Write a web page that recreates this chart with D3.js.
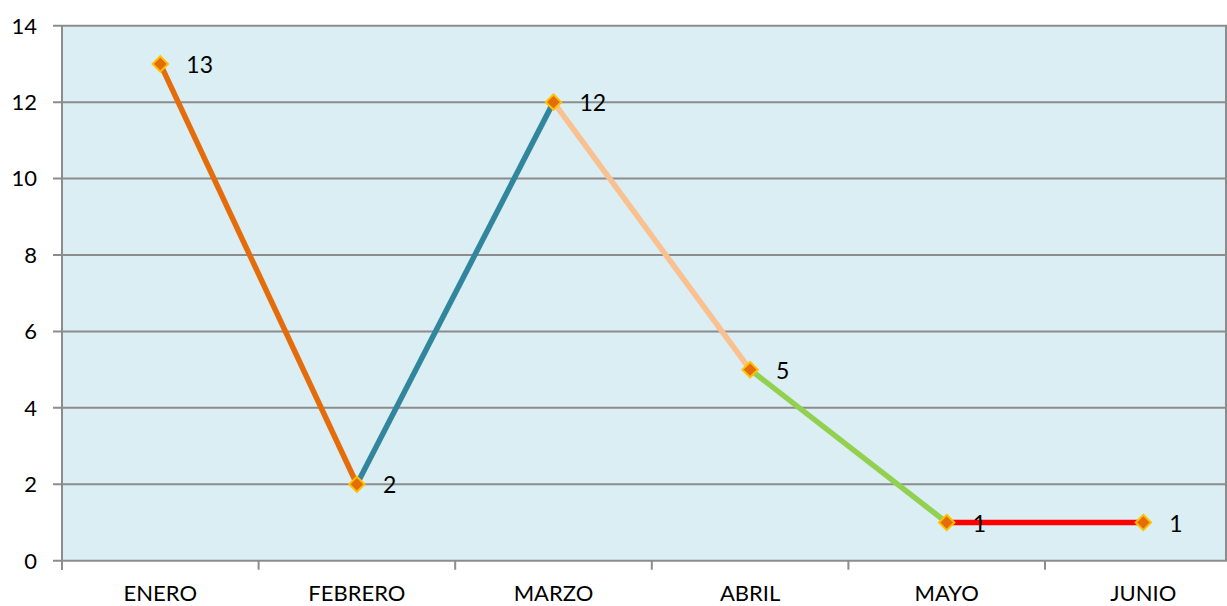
<!DOCTYPE html>
<html><head><meta charset="utf-8">
<script src="https://cdn.jsdelivr.net/npm/d3@7"></script>
<style>body{margin:0;background:#fff}svg{display:block}text{font-family:Lato,"Open Sans",sans-serif}</style>
</head><body>
<svg id="c" width="1227" height="606"></svg>
<script>
const categories = ["ENERO","FEBRERO","MARZO","ABRIL","MAYO","JUNIO"];
const values = [13,2,12,5,1,1];
const segmentColors = ["#E46C0A","#31859C","#FAC090","#92D050","#FF0000"];
const yTicks = [0,2,4,6,8,10,12,14];

(function(){
const svg = d3.select("#c");
const pLeft = 62, pTop = 25.7, pBottom = 560.7, band = 196.6;
const x = d3.scaleBand().domain(categories).range([pLeft, pLeft + band*categories.length]).paddingInner(0).paddingOuter(0);
const y = d3.scaleLinear().domain([0,14]).range([pBottom, pTop]);
const cx = d => x(d) + x.bandwidth()/2;

svg.append("rect").attr("x", pLeft).attr("y", pTop).attr("width", x.range()[1]-pLeft).attr("height", pBottom-pTop).attr("fill", "#DAEEF3");

svg.append("g").selectAll("line").data(yTicks).join("line")
  .attr("x1", pLeft-9).attr("x2", 1227).attr("y1", d=>y(d)).attr("y2", d=>y(d))
  .attr("stroke", "#8C8C8C").attr("stroke-width", 2);
svg.append("line").attr("x1", pLeft).attr("x2", pLeft).attr("y1", pTop).attr("y2", pBottom+9).attr("stroke","#8C8C8C").attr("stroke-width",2);
svg.append("line").attr("x1", 1226).attr("x2", 1226).attr("y1", pTop).attr("y2", pBottom).attr("stroke","#8C8C8C").attr("stroke-width",2);
const xb = categories.map(c => x(c)).concat([x.range()[1]]);
svg.append("g").selectAll("line").data(xb).join("line")
  .attr("x1", d=>d).attr("x2", d=>d).attr("y1", pBottom).attr("y2", pBottom+9)
  .attr("stroke","#8C8C8C").attr("stroke-width",2);
svg.append("g").selectAll("text").data(yTicks).join("text")
  .attr("x", 37).attr("y", d=>y(d)).attr("dy","0.36em").attr("text-anchor","end")
  .attr("font-size", 22).attr("fill","#000").text(d=>d);
svg.append("g").selectAll("text").data(categories).join("text")
  .attr("x", d=>cx(d)).attr("y", 601).attr("text-anchor","middle")
  .attr("font-size", 22).attr("fill","#000").text(d=>d);

const segs = d3.range(values.length-1).map(i => ({i, c: segmentColors[i]}));
svg.append("g").selectAll("line").data(segs).join("line")
  .attr("x1", d=>cx(categories[d.i])).attr("y1", d=>y(values[d.i]))
  .attr("x2", d=>cx(categories[d.i+1])).attr("y2", d=>y(values[d.i+1]))
  .attr("stroke", d=>d.c).attr("stroke-width", 5.5).attr("stroke-linecap","butt");

const sym = d3.symbol().type(d3.symbolDiamond2).size(150);
svg.append("g").selectAll("path").data(values).join("path")
  .attr("transform", (d,i)=>`translate(${cx(categories[i])},${y(d)})`)
  .attr("d", sym).attr("fill","#E46C0A").attr("stroke","#FFC000").attr("stroke-width",2);

svg.append("g").selectAll("text").data(values).join("text")
  .attr("x", (d,i)=>cx(categories[i]) + 26).attr("y", d=>y(d)).attr("dy","0.4em")
  .attr("font-size", 23).attr("fill","#000").text(d=>d);
})();
</script>
</body></html>
